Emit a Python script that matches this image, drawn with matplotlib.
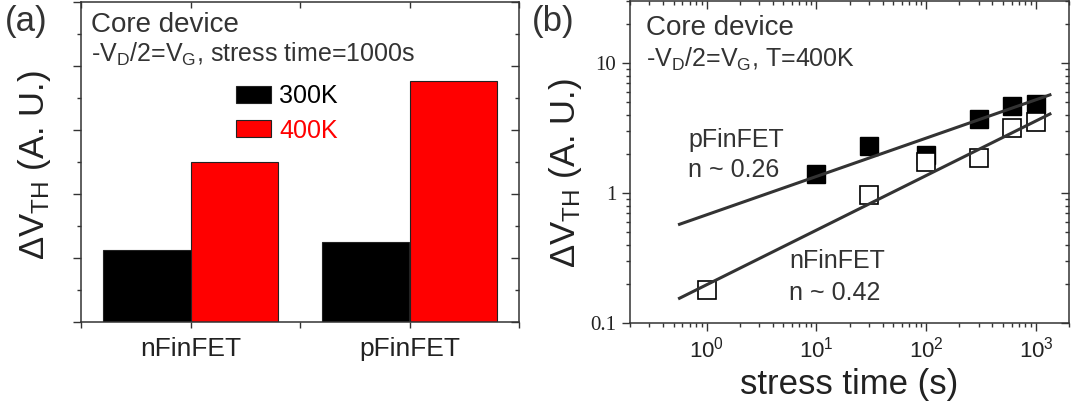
import numpy as np
import matplotlib
matplotlib.use("Agg")
import matplotlib.pyplot as plt
from matplotlib.lines import TICKLEFT, TICKDOWN
from matplotlib.ticker import FixedLocator, LogLocator, NullFormatter, FixedFormatter, LogFormatterSciNotation

# ---------------- data ----------------
devices = ["nFinFET", "pFinFET"]
temps = ["300K", "400K"]
dvth_300K = [1.13, 1.25]
dvth_400K = [2.50, 3.76]

stress_time_p = [10, 30, 100, 300, 600, 1000]
dvth_p = [1.41, 2.29, 1.97, 3.72, 4.68, 4.85]
stress_time_n = [1, 30, 100, 300, 600, 1000]
dvth_n = [0.18, 0.97, 1.74, 1.86, 3.18, 3.52]

# power-law fit lines  dV = A * t^n
fit_prefactor = [0.68, 0.197]   # pFinFET, nFinFET
fit_exponent = [0.295, 0.42]
fit_t_range = [0.565, 1340]

# ---------------- style ----------------
plt.rcParams['font.family'] = ['Liberation Sans', 'DejaVu Sans']
plt.rcParams['mathtext.fontset'] = 'custom'
plt.rcParams['mathtext.rm'] = 'Liberation Sans'
plt.rcParams['mathtext.it'] = 'Liberation Sans:italic'
plt.rcParams['mathtext.bf'] = 'Liberation Sans:bold'

W, H = 1074, 408
DPI = 100
fig = plt.figure(figsize=(W / DPI, H / DPI), dpi=DPI)

SPINE = '#333333'
TXT = '#333333'

def axes_px(left, top, right, bottom):
    return fig.add_axes([left / W, (H - bottom) / H, (right - left) / W, (bottom - top) / H])

def ftext(x, y, s, **kw):
    fig.text(x / W, (H - y) / H, s, **kw)

def style_axes(ax):
    for sp in ax.spines.values():
        sp.set_color(SPINE)
        sp.set_linewidth(1.1)

def inward_top_right(ax):
    for t in ax.xaxis.get_major_ticks() + ax.xaxis.get_minor_ticks():
        t.tick2line.set_marker(TICKDOWN)
    for t in ax.yaxis.get_major_ticks() + ax.yaxis.get_minor_ticks():
        t.tick2line.set_marker(TICKLEFT)

# ---------------- panel (a) ----------------
axa = axes_px(81, 2, 519, 322)
style_axes(axa)
x = np.arange(len(devices))
bw = 0.4
axa.bar(x - bw / 2, dvth_300K, width=bw, color='black', edgecolor='#222222', linewidth=0.8, label=temps[0])
axa.bar(x + bw / 2, dvth_400K, width=bw, color='#ff0000', edgecolor='#222222', linewidth=0.8, label=temps[1])
axa.set_xlim(-0.5, 1.5)
axa.set_ylim(0, 5)
axa.xaxis.set_major_locator(FixedLocator(x))
axa.xaxis.set_minor_locator(FixedLocator([-0.5, 0.5, 1.5]))
axa.set_xticklabels(devices)
axa.yaxis.set_major_locator(FixedLocator([0, 1, 2, 3, 4, 5]))
axa.yaxis.set_minor_locator(FixedLocator([0.5, 1.5, 2.5, 3.5, 4.5]))
axa.yaxis.set_major_formatter(NullFormatter())
axa.tick_params(axis='both', which='both', top=True, right=True, color=SPINE, width=1.0, direction='out')
axa.tick_params(axis='x', which='both', labelsize=19, labelcolor='#222222', pad=7, length=4)
axa.tick_params(axis='y', which='major', length=6)
axa.tick_params(axis='y', which='minor', length=3)
inward_top_right(axa)

axa.set_ylabel('ΔV$_\\mathregular{TH}$ (A. U.)', fontsize=25, color='#222222')
axa.yaxis.set_label_coords((35 - 81) / 438, 0.5 - (165 - 162) / 320)
axa.yaxis.label.set_verticalalignment('center')

leg = axa.legend(loc='upper left', bbox_to_anchor=(236 / W, (H - 84) / H), bbox_transform=fig.transFigure,
                 frameon=False, fontsize=18, handlelength=1.4, handleheight=0.68,
                 labelspacing=0.42, handletextpad=0.32, borderpad=0, borderaxespad=0)
leg.get_texts()[0].set_color('black')
leg.get_texts()[1].set_color('#ff0000')

ftext(5, 31, '(a)', fontsize=25, color=TXT, va='baseline')
ftext(91, 32, 'Core device', fontsize=20, color=TXT, va='baseline')
ftext(91, 62, '-V$_\\mathregular{D}$/2=V$_\\mathregular{G}$, stress time=1000s', fontsize=18, color=TXT, va='baseline')

# ---------------- panel (b) ----------------
axb = axes_px(630, 1, 1069, 323)
style_axes(axb)
axb.set_xscale('log')
axb.set_yscale('log')
axb.set_xlim(0.2, 2000)
axb.set_ylim(0.1, 30)

axb.plot(stress_time_p, dvth_p, linestyle='none', marker='s', markersize=13,
         markerfacecolor='black', markeredgecolor='black', zorder=3)
axb.plot(stress_time_n, dvth_n, linestyle='none', marker='s', markersize=12.5,
         markerfacecolor='white', markeredgecolor='black', markeredgewidth=1.2, zorder=4)
tt = np.geomspace(fit_t_range[0], fit_t_range[1], 50)
for A, n in zip(fit_prefactor, fit_exponent):
    axb.plot(tt, A * tt ** n, color='#333333', linewidth=2.2, zorder=5)

axb.xaxis.set_major_locator(FixedLocator([1, 10, 100, 1000]))
axb.xaxis.set_minor_locator(LogLocator(base=10, subs=np.arange(2, 10)))
axb.xaxis.set_major_formatter(LogFormatterSciNotation())
axb.xaxis.set_minor_formatter(NullFormatter())
axb.yaxis.set_major_locator(FixedLocator([0.1, 1, 10]))
axb.yaxis.set_major_formatter(FixedFormatter(['0.1', '1', '10']))
axb.yaxis.set_minor_locator(LogLocator(base=10, subs=np.arange(2, 10)))
axb.yaxis.set_minor_formatter(NullFormatter())
axb.tick_params(axis='both', which='both', top=True, right=True, color=SPINE, width=1.0, direction='out')
axb.tick_params(axis='x', which='major', length=6, labelsize=16, labelcolor='#222222', pad=4)
axb.tick_params(axis='x', which='minor', length=3)
axb.tick_params(axis='y', which='major', length=6, labelsize=15, labelcolor='#222222', pad=4,
                labelfontfamily='Liberation Serif')
axb.tick_params(axis='y', which='minor', length=3)
inward_top_right(axb)

axb.set_xlabel('stress time (s)', fontsize=25, color='#222222', labelpad=4)
axb.set_ylabel('ΔV$_\\mathregular{TH}$ (A. U.)', fontsize=25, color='#222222')
axb.yaxis.set_label_coords((565 - 630) / 439, 0.5 - (173 - 162) / 322)
axb.yaxis.label.set_verticalalignment('center')

ftext(532, 31, '(b)', fontsize=25, color=TXT, va='baseline')
ftext(646, 35, 'Core device', fontsize=20, color=TXT, va='baseline')
ftext(646, 67, '-V$_\\mathregular{D}$/2=V$_\\mathregular{G}$, T=400K', fontsize=18, color=TXT, va='baseline')
ftext(688, 147, 'pFinFET', fontsize=18, color=TXT, va='baseline')
ftext(688, 177, 'n ~ 0.26', fontsize=18, color=TXT, va='baseline')
ftext(789, 268, 'nFinFET', fontsize=18, color=TXT, va='baseline')
ftext(789, 300, 'n ~ 0.42', fontsize=18, color=TXT, va='baseline')

fig.savefig('out.png', dpi=DPI)
